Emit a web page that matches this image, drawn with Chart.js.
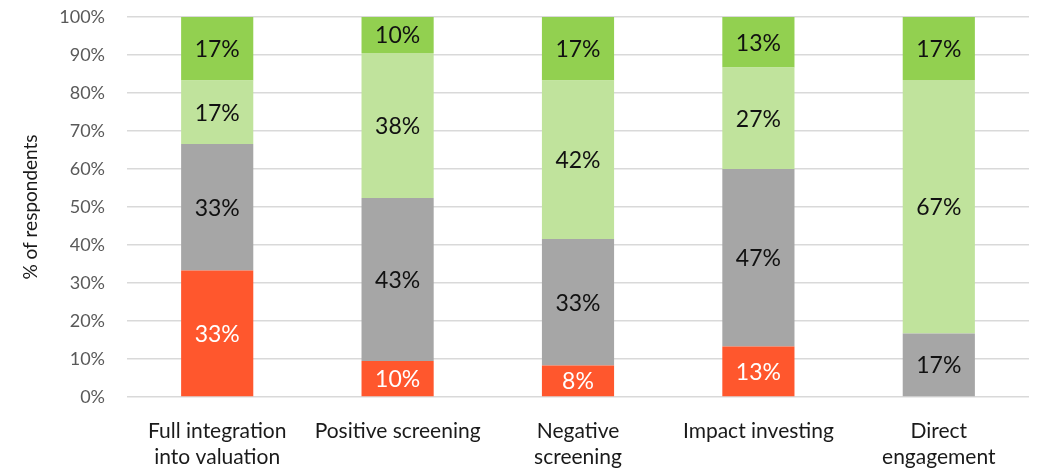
<!DOCTYPE html>
<html>
<head>
    <title>Responsible investment approaches</title>
    <style>
        html, body { margin: 0; padding: 0; background: #fff; }
        #wrap { width: 1056px; height: 475px; }
    </style>
</head>
<body>
<div id="wrap"><canvas id="chart" width="1056" height="475"></canvas></div>
<script src="https://cdn.jsdelivr.net/npm/chart.js@4"></script>
<script>

// categories and the four answer groups (share of respondents, %)
var categories = [
    ["Full integration", "into valuation"],
    "Positive screening",
    ["Negative", "screening"],
    "Impact investing",
    ["Direct", "engagement"]
];
var redShare = [33.3, 9.5, 8.3, 13.3, 0];
var greyShare = [33.3, 42.9, 33.3, 46.7, 16.7];
var lightGreenShare = [16.7, 38.1, 41.7, 26.7, 66.7];
var greenShare = [16.7, 9.5, 16.7, 13.3, 16.7];
var yTicks = [0, 10, 20, 30, 40, 50, 60, 70, 80, 90, 100];

var labelFont = "Lato, 'Noto Sans', sans-serif";

// writes the rounded value in the middle of each segment
var segmentLabels = {
    id: 'segmentLabels',
    afterDatasetsDraw: function(chart) {
        var ctx = chart.ctx;
        ctx.save();
        ctx.font = '23px ' + labelFont;
        ctx.textAlign = 'center';
        ctx.textBaseline = 'middle';
        chart.data.datasets.forEach(function(ds, i) {
            var meta = chart.getDatasetMeta(i);
            meta.data.forEach(function(bar, j) {
                var v = ds.data[j];
                if (!v) return;
                ctx.fillStyle = ds.labelColor;
                ctx.fillText(Math.round(v) + '%', bar.x, (bar.y + bar.base) / 2 + 1);
            });
        });
        ctx.restore();
    }
};

function series(label, data, colour, textColour) {
    return {
        label: label,
        data: data,
        backgroundColor: colour,
        borderWidth: 0,
        labelColor: textColour,
        barPercentage: 0.4,
        categoryPercentage: 1.0
    };
}

var ctx = document.getElementById('chart').getContext('2d');
var chart = new Chart(ctx, {
    type: 'bar',
    data: {
        labels: categories,
        datasets: [
            series('Red', redShare, '#FF572D', '#ffffff'),
            series('Grey', greyShare, '#A6A6A6', '#111111'),
            series('Light green', lightGreenShare, '#C0E39C', '#111111'),
            series('Green', greenShare, '#92D050', '#111111')
        ]
    },
    plugins: [segmentLabels],
    options: {
        responsive: false,
        animation: false,
        layout: { padding: { top: 17, right: 27, bottom: 0, left: 19 } },
        plugins: {
            legend: { display: false },
            tooltip: { enabled: false }
        },
        scales: {
            x: {
                stacked: true,
                grid: { display: false },
                border: { display: false },
                ticks: {
                    color: '#1a1a1a',
                    font: { family: labelFont, size: 21, lineHeight: 1.2 },
                    maxRotation: 0,
                    autoSkip: false,
                    padding: 14
                },
                afterFit: function(s) {
                    s.height = 78;
                    s.paddingLeft = 0;
                    s.paddingRight = 0;
                }
            },
            y: {
                stacked: true,
                min: 0,
                max: 100,
                afterBuildTicks: function(s) {
                    s.ticks = yTicks.map(function(v) { return { value: v }; });
                },
                grid: { color: '#D9D9D9', lineWidth: 1.5, drawTicks: false },
                border: { display: false },
                ticks: {
                    color: '#595959',
                    font: { family: labelFont, size: 18 },
                    padding: 22,
                    callback: function(v) { return v + '%'; }
                },
                title: {
                    display: true,
                    text: '% of respondents',
                    color: '#1a1a1a',
                    font: { family: labelFont, size: 19 },
                    padding: { top: 0, bottom: 0 }
                },
                afterFit: function(s) {
                    s.width = 108;
                    s.paddingTop = 0;
                    s.paddingBottom = 0;
                }
            }
        }
    }
});
</script>
</body>
</html>
